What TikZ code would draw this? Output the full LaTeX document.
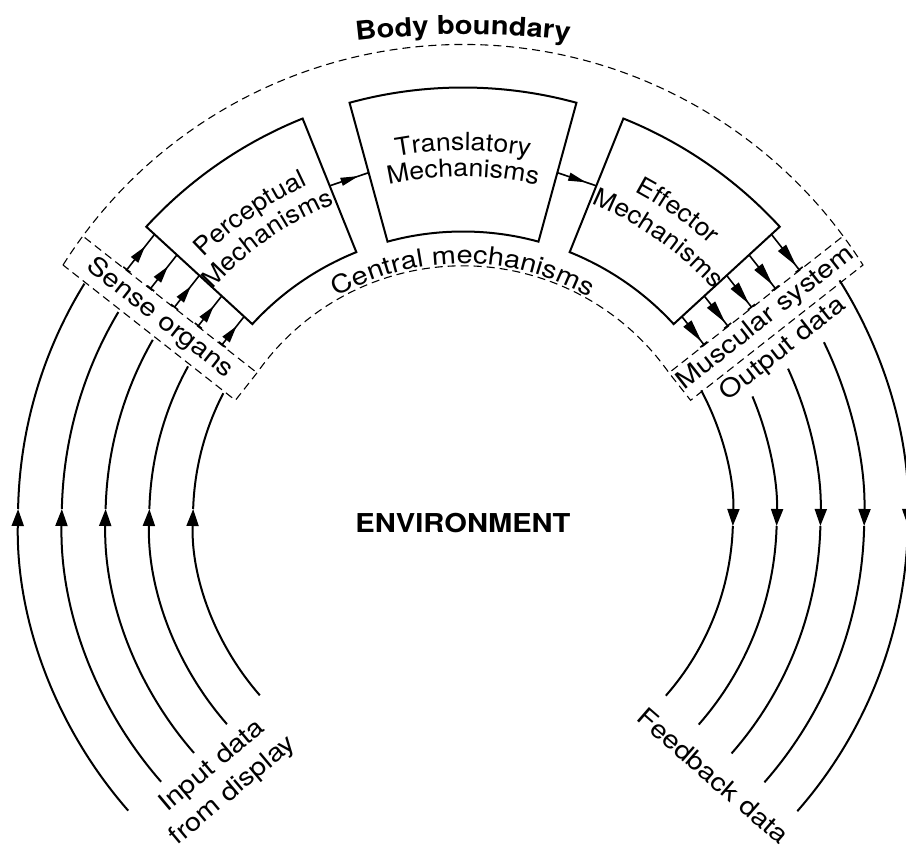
\documentclass[tikz,border=0pt]{standalone}
\usepackage{fontspec}
\setmainfont{TeX Gyre Heros}
\newfontfamily\hv[FakeStretch=1.16]{TeX Gyre Heros}
\newfontfamily\hvbox[FakeStretch=1.07]{TeX Gyre Heros}
\newfontfamily\hvb[FakeStretch=1.12]{TeX Gyre Heros}
\newcommand\lblfont{\hv\fontsize{25}{30}\selectfont}
\newcommand\boxfont{\hvbox\fontsize{25}{30}\selectfont}
\newcommand\boldlbl{\hvb\bfseries\fontsize{26}{30}\selectfont}
\usetikzlibrary{arrows.meta,decorations.markings,decorations.text,calc}
\begin{document}
\begin{tikzpicture}[x=1pt,y=1pt,
  box/.style={line width=2pt},
  flow/.style={line width=2pt},
  bigtip/.style={-{Triangle[length=17pt,width=12pt]}},
  bound/.style={line width=1.1pt, dash pattern=on 8pt off 5pt},
  senseflow/.style={line width=1.6pt, {Bar[width=9pt]}-, postaction={decorate},
    decoration={markings, mark=at position 0.66 with {\arrow{Triangle[length=17pt,width=9pt]}}}},
  motorflow/.style={line width=1.6pt, -{Bar[width=9pt]}, postaction={decorate},
    decoration={markings, mark=at position 0.88 with {\arrow{Triangle[length=23pt,width=10pt]}}}},
  link/.style={line width=1.6pt, postaction={decorate},
    decoration={markings, mark=at position 0.74 with {\arrow{Triangle[length=18pt,width=8pt]}}}},
  lbl/.style={font=\lblfont, inner sep=0pt},
  arctext/.style={decorate, decoration={text along path, text align=center, text={|\lblfont|#1}}},
  boxtext/.style={decorate, decoration={text along path, text align=center, text={|\boxfont|#1}}}
]
\useasboundingbox (0,0) rectangle (906,849);
\begin{scope}[shift={(463,331.5)}]
% ---------- boxes ----------
\coordinate (pUR) at (111.9:430);  \coordinate (pLR) at (111.9:286);
\coordinate (pUL) at (137.45:430); \coordinate (pLL) at (137.45:286);
\coordinate (tUL) at (105.3:430);  \coordinate (tLL) at (105.3:286);
\coordinate (tUR) at (74.7:430);   \coordinate (tLR) at (74.7:286);
\coordinate (eUL) at (68.1:430);   \coordinate (eLL) at (68.1:286);
\coordinate (eUR) at (42.55:430);  \coordinate (eLR) at (42.55:286);
\draw[box] (pUR) arc[start angle=111.9,end angle=137.45,radius=430] -- (pLL)
   arc[start angle=137.45,end angle=111.9,radius=286] -- cycle;
\draw[box] (tUR) arc[start angle=74.7,end angle=105.3,radius=430] -- (tLL)
   arc[start angle=105.3,end angle=74.7,radius=286] -- cycle;
\draw[box] (eUR) arc[start angle=42.55,end angle=68.1,radius=430] -- (eLL)
   arc[start angle=68.1,end angle=42.55,radius=286] -- cycle;
% links between boxes
\coordinate (pt1) at (111.9:357.5); \coordinate (pt2) at (105.3:357.5);
\coordinate (te1) at (74.7:357.5);  \coordinate (te2) at (68.1:357.5);
\draw[link] (pt1) -- (pt2);
\draw[link] (te1) -- (te2);
% ---------- body boundary ----------
\coordinate (B) at (147.74:473);  \coordinate (Bm) at (32.26:473);
\coordinate (C1) at (-227.6,117.2); \coordinate (C1m) at (227.6,117.2);
\coordinate (D) at (144.92:251.7); \coordinate (Dm) at (35.08:251.7);
\coordinate (A) at (-378.4,280);   \coordinate (Am) at (378.4,280);
\draw[bound] (B) arc[start angle=147.74,end angle=32.26,radius=473] -- (C1m) -- (Dm)
   arc[start angle=35.08,end angle=144.92,radius=251.7] -- (C1) -- cycle;
\draw[bound] (A) -- (D);
\draw[bound] (Am) -- (Dm);
% ---------- sense and motor arrows ----------
\foreach \s/\len [count=\i] in {53.1/45.84, 83.4/43.5, 113.7/41.15, 144/38.81, 174.3/36.47} {
  \coordinate (sb\i) at ($(A)!\s pt!(D)$);
  \coordinate (se\i) at ($(sb\i)!\len pt!90:(D)$);
  \draw[senseflow] (sb\i) -- (se\i);
  \coordinate (mb\i) at ($(Am)!\s pt!(Dm)$);
  \coordinate (me\i) at ($(mb\i)!\len pt!-90:(Dm)$);
  \draw[motorflow] (me\i) -- (mb\i);
}
% ---------- input / output arcs ----------
\foreach \r/\tp in {270/152.6, 313.75/151.2, 357.5/150.2, 401.25/149.2, 445/148.3} {
  \pgfmathsetmacro\myd{8.5/\r*57.2958}
  \pgfmathsetmacro\myang{180-\myd}
  \draw[flow,bigtip] (221.2:\r) arc[start angle=221.2, end angle=\myang, radius=\r];
  \draw[flow] (\myang:\r) arc[start angle=\myang, end angle=\tp, radius=\r];
}
\foreach \r/\tp in {270/28.1, 313.75/22.7, 357.5/24.6, 401.25/25.9, 445/32.2} {
  \pgfmathsetmacro\myd{8.5/\r*57.2958}
  \pgfmathsetmacro\myang{-\myd}
  \draw[flow,bigtip] (\tp:\r) arc[start angle=\tp, end angle=\myang, radius=\r];
  \draw[flow] (\myang:\r) arc[start angle=\myang, end angle=-41.3, radius=\r];
}
% ---------- texts ----------
\path[boxtext=Translatory] (115:367) arc[start angle=115,end angle=65,radius=367];
\path[boxtext=Mechanisms] (115:341) arc[start angle=115,end angle=65,radius=341];
\path[boxtext=Perceptual] (150:367) arc[start angle=150,end angle=100,radius=367];
\path[boxtext=Mechanisms] (150:339) arc[start angle=150,end angle=100,radius=339];
\path[boxtext=Effector] (80:368) arc[start angle=80,end angle=30,radius=368];
\path[boxtext=Mechanisms] (80:339) arc[start angle=80,end angle=30,radius=339];
\path[arctext={Central mechanisms}] (140:254) arc[start angle=140,end angle=40,radius=254];
\path[decorate, decoration={text along path, text align=center, text={|\boldlbl|Body boundary}}]
   (-156.28,469.33) arc[start angle=100,end angle=80,radius=900];
\node[font=\boldlbl] (env) at (0,-5.5) {ENVIRONMENT};
\node[lbl, rotate=-38.14] (sense) at (-303,199.2) {Sense organs};
\node[lbl, rotate=38.14] (musc) at (303,199.2) {Muscular system};
\node[lbl, rotate=38.14] (outd) at (320.3,168.2) {Output data};
\node[lbl, rotate=40, align=center, font=\hv\fontsize{25}{32}\selectfont] (inp) at (-240,-261) {Input data\\from display};
\node[lbl, rotate=-41] (feed) at (250.3,-258.5) {Feedback data};
\end{scope}
\end{tikzpicture}
\end{document}
